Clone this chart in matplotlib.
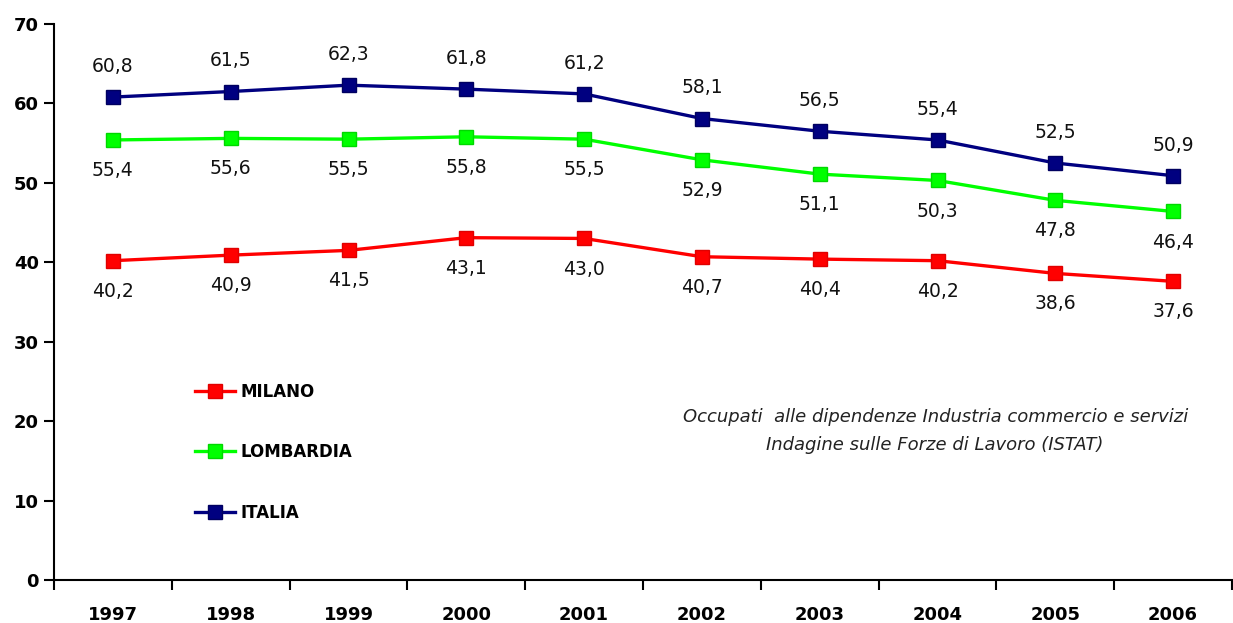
import matplotlib
matplotlib.use("Agg")
import matplotlib.pyplot as plt
import numpy as np

years = ["1997", "1998", "1999", "2000", "2001", "2002", "2003", "2004", "2005", "2006"]
italia = [60.8, 61.5, 62.3, 61.8, 61.2, 58.1, 56.5, 55.4, 52.5, 50.9]
lombardia = [55.4, 55.6, 55.5, 55.8, 55.5, 52.9, 51.1, 50.3, 47.8, 46.4]
milano = [40.2, 40.9, 41.5, 43.1, 43.0, 40.7, 40.4, 40.2, 38.6, 37.6]
yticks = [0, 10, 20, 30, 40, 50, 60, 70]

fig = plt.figure(figsize=(12.33, 6.23), dpi=100)
ax = fig.add_axes([54/1233, 43/623, 1178/1233, 556/623])

x = np.arange(len(years))
series = [
    ("MILANO", milano, "#FF0000", "#E00000", -1),
    ("LOMBARDIA", lombardia, "#00FF00", "#00D800", -1),
    ("ITALIA", italia, "#000080", "#000060", 1),
]
handles = []
for name, vals, col, ecol, side in series:
    h, = ax.plot(x, vals, color=col, lw=2.4, marker="s", ms=10,
                 markerfacecolor=col, markeredgecolor=ecol, markeredgewidth=1.0,
                 label=name, zorder=3)
    handles.append(h)
    for xi, v in zip(x, vals):
        ax.annotate(f"{v:.1f}".replace(".", ","), (xi, v),
                    xytext=(0, 22 * side), textcoords="offset points",
                    ha="center", va="center", fontsize=13.5, color="#111111")

ax.set_xlim(-0.5, len(years) - 0.5)
ax.set_ylim(0, 70)
ax.set_yticks(yticks)
ax.set_yticklabels([str(t) for t in yticks], fontsize=13, fontweight="bold")
ax.set_xticks(x)
ax.set_xticklabels(years, fontsize=13, fontweight="bold")
ax.tick_params(axis="x", length=0, pad=19)
ax.set_xticks(np.arange(-0.5, len(years), 1.0), minor=True)
ax.tick_params(axis="x", which="minor", length=7, width=1.5, direction="out")
ax.tick_params(axis="y", length=7, width=1.5, direction="out", pad=4)
for s in ["top", "right"]:
    ax.spines[s].set_visible(False)
for s in ["left", "bottom"]:
    ax.spines[s].set_linewidth(1.5)

leg = ax.legend(handles=handles, loc="upper left", bbox_to_anchor=(0.107, 0.382),
                frameon=False, prop={"weight": "bold", "size": 12},
                labelspacing=2.55, handlelength=2.4, handletextpad=0.35, markerscale=1.0)

ax.text(0.748, 0.268, "Occupati  alle dipendenze Industria commercio e servizi\nIndagine sulle Forze di Lavoro (ISTAT)",
        transform=ax.transAxes, ha="center", va="center", fontsize=13, style="italic",
        color="#222222", linespacing=1.75)

fig.savefig("out.png", dpi=100)
